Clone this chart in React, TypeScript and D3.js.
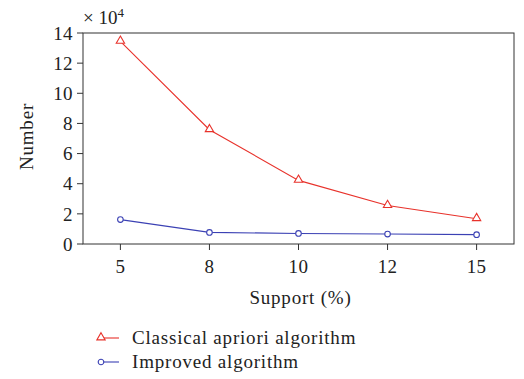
import React from 'react';
import * as d3 from 'd3';

// support levels (%) and counts (x 10^4)
const supports = ['5', '8', '10', '12', '15'];
const classical = [13.45, 7.58, 4.22, 2.55, 1.68];
const improved = [1.62, 0.77, 0.7, 0.66, 0.62];
const yTicks = [0, 2, 4, 6, 8, 10, 12, 14];

const series = [
  { name: 'Classical apriori algorithm', values: classical, color: '#e8322b', marker: 'triangle' },
  { name: 'Improved algorithm', values: improved, color: '#3b41b4', marker: 'circle' },
];

const W = 524;
const H = 379;
const margin = { top: 33, right: 10, bottom: 135, left: 83 };
const FONT = "'Liberation Serif', 'Times New Roman', serif";

export default function App() {
  const innerW = W - margin.left - margin.right;
  const innerH = H - margin.top - margin.bottom;

  const x = d3.scalePoint<string>().domain(supports).range([0, innerW]).padding(0.42);
  const y = d3.scaleLinear().domain([0, 14]).range([innerH, 0]);

  const line = d3
    .line<number>()
    .x((_, i) => x(supports[i]) as number)
    .y((d) => y(d));

  const tri = d3.symbol().type(d3.symbolTriangle).size(30)();
  const marker = (kind: string, color: string, cx: number, cy: number, key: string) =>
    kind === 'triangle' ? (
      <path key={key} d={tri as string} transform={`translate(${cx},${cy - 0.5})`} fill="white" stroke={color} strokeWidth={1.1} />
    ) : (
      <circle key={key} cx={cx} cy={cy} r={2.8} fill="white" stroke={color} strokeWidth={1.1} />
    );

  return (
    <svg width={W} height={H} style={{ position: 'absolute', left: 0, top: 0, fontFamily: FONT }}>
      <g transform={`translate(${margin.left},${margin.top})`}>
        <rect x={0} y={0} width={innerW} height={innerH} fill="none" stroke="#333" strokeWidth={1} />
        {yTicks.map((t) => (
          <g key={t} transform={`translate(0,${y(t)})`}>
            <line x1={-6} x2={0} stroke="#333" />
            <text x={-10} dy="0.35em" textAnchor="end" fontSize={19} letterSpacing={0.4} fill="#222">
              {t}
            </text>
          </g>
        ))}
        {supports.map((s) => (
          <g key={s} transform={`translate(${x(s)},${innerH})`}>
            <line y1={0} y2={6} stroke="#333" />
            <text y={29} textAnchor="middle" fontSize={19} letterSpacing={0.4} fill="#222">
              {s}
            </text>
          </g>
        ))}
        {series.map((s) => (
          <g key={s.name}>
            <path d={line(s.values) as string} fill="none" stroke={s.color} strokeWidth={1.1} />
            {s.values.map((v, i) =>
              marker(s.marker, s.color, x(supports[i]) as number, y(v), s.name + i)
            )}
          </g>
        ))}
      </g>
      <text x={83} y={24} fontSize={19} fill="#222">
        × 10<tspan dy={-7} fontSize={13}>4</tspan>
      </text>
      <text transform={`translate(33,${margin.top + innerH / 2 - 2}) rotate(-90)`} textAnchor="middle" fontSize={19} letterSpacing={0.8} fill="#222">
        Number
      </text>
      <text x={margin.left + innerW / 2 + 2} y={304} textAnchor="middle" fontSize={19} letterSpacing={0.8} fill="#222">
        Support (%)
      </text>
      {series.map((s, i) => (
        <g key={s.name} transform={`translate(100,${338 + i * 24})`}>
          <line x1={0} x2={19} stroke={s.color} strokeWidth={1.1} />
          {marker(s.marker, s.color, 1, 0, 'lg' + i)}
          <text x={32} dy="0.32em" fontSize={19} letterSpacing={0.8} fill="#222">
            {s.name}
          </text>
        </g>
      ))}
    </svg>
  );
}
